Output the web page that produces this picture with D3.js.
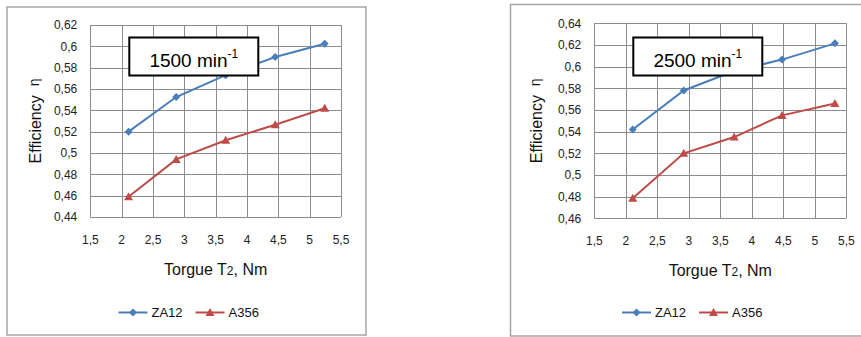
<!DOCTYPE html>
<html>
<head>
<meta charset="utf-8">
<script src="https://cdn.jsdelivr.net/npm/d3@7"></script>
<style>
  body { margin: 0; background: #fff; }
  svg { display: block; font-family: "Liberation Sans", Arial, sans-serif; }
</style>
</head>
<body>
<svg id="chart" width="861" height="337"></svg>
<script>
/************************************ Data *******************************/
var seriesNames = ["ZA12", "A356"];
var seriesColors = ["#4a7ebb", "#be4b48"];
var speeds = ["1500", "2500"];

var xTicks = [1.5, 2, 2.5, 3, 3.5, 4, 4.5, 5, 5.5];
var yTicks1500 = [0.44, 0.46, 0.48, 0.5, 0.52, 0.54, 0.56, 0.58, 0.6, 0.62];
var yTicks2500 = [0.46, 0.48, 0.5, 0.52, 0.54, 0.56, 0.58, 0.6, 0.62, 0.64];

var torque1500 = [2.11, 2.87, 3.66, 4.45, 5.24];
var za12_1500  = [0.52, 0.5525, 0.573, 0.590, 0.6025];
var a356_1500  = [0.459, 0.494, 0.512, 0.5265, 0.542];

var torque2500 = [2.11, 2.92, 3.72, 4.48, 5.32];
var za12_2500  = [0.542, 0.578, 0.596, 0.6065, 0.6215];
var a356_2500  = [0.4785, 0.52, 0.535, 0.555, 0.566];

/************************************ Helpers *******************************/
var locale = d3.formatLocale({decimal: ",", thousands: " ", grouping: [3], currency: ["", ""]});
var fmt = locale.format("~g");

var markers = [
	"M0,-4L4,0L0,4L-4,0Z",          // diamond
	"M0,-4.5L4.5,3.5L-4.5,3.5Z"     // triangle
];

var svg = d3.select("#chart");

function drawChart(cfg) {
	var g = svg.append("g");

	// outer frame
	g.append("rect")
		.attr("x", cfg.box[0]).attr("y", cfg.box[1])
		.attr("width", cfg.box[2] - cfg.box[0]).attr("height", cfg.box[3] - cfg.box[1])
		.attr("fill", "#fff").attr("stroke", "#a6a6a6").attr("stroke-width", 1.5);

	var x = d3.scaleLinear().domain([1.5, 5.5]).range([cfg.plot[0], cfg.plot[2]]);
	var y = d3.scaleLinear().domain([cfg.yTicks[0], cfg.yTicks[cfg.yTicks.length - 1]])
		.range([cfg.plot[3], cfg.plot[1]]);

	// grid
	g.append("g").selectAll("line").data(xTicks).enter().append("line")
		.attr("x1", function(d) { return Math.round(x(d)) + 0.5; })
		.attr("x2", function(d) { return Math.round(x(d)) + 0.5; })
		.attr("y1", y.range()[1]).attr("y2", y.range()[0])
		.attr("stroke", "#8c8c8c").attr("stroke-width", 1);
	g.append("g").selectAll("line").data(cfg.yTicks).enter().append("line")
		.attr("y1", function(d) { return Math.round(y(d)) + 0.5; })
		.attr("y2", function(d) { return Math.round(y(d)) + 0.5; })
		.attr("x1", x.range()[0]).attr("x2", x.range()[1])
		.attr("stroke", "#8c8c8c").attr("stroke-width", 1);

	// tick labels
	g.append("g").selectAll("text").data(cfg.yTicks).enter().append("text")
		.attr("x", x.range()[0] - 13)
		.attr("y", function(d) { return y(d) + 4.3; })
		.attr("text-anchor", "end").attr("font-size", 12).attr("fill", "#222")
		.text(fmt);
	g.append("g").selectAll("text").data(xTicks).enter().append("text")
		.attr("x", function(d) { return x(d); })
		.attr("y", y.range()[0] + 27)
		.attr("text-anchor", "middle").attr("font-size", 12).attr("fill", "#222")
		.text(fmt);

	// axis titles
	var xt = g.append("text")
		.attr("x", (x.range()[0] + x.range()[1]) / 2)
		.attr("y", y.range()[0] + 58)
		.attr("text-anchor", "middle").attr("font-size", 16).attr("fill", "#111");
	xt.append("tspan").text("Torgue T");
	xt.append("tspan").attr("font-size", 12).text("2");
	xt.append("tspan").text(", Nm");

	var yt = g.append("text")
		.attr("transform", "translate(" + (x.range()[0] - cfg.yTitleOff) + "," + ((y.range()[0] + y.range()[1]) / 2) + ") rotate(-90)")
		.attr("text-anchor", "middle").attr("font-size", 16).attr("fill", "#111");
	yt.append("tspan").text("Efficiency\u00a0\u00a0");
	yt.append("tspan").attr("font-size", 14).attr("dy", -2).text("\u03b7");

	// series
	var line = d3.line()
		.x(function(d) { return x(d[0]); })
		.y(function(d) { return y(d[1]); });

	cfg.series.forEach(function(vals, i) {
		var pts = cfg.torque.map(function(t, k) { return [t, vals[k]]; });
		g.append("path").attr("d", line(pts))
			.attr("fill", "none").attr("stroke", seriesColors[i]).attr("stroke-width", 2);
		g.append("g").selectAll("path").data(pts).enter().append("path")
			.attr("d", markers[i])
			.attr("transform", function(d) { return "translate(" + x(d[0]) + "," + y(d[1]) + ")"; })
			.attr("fill", seriesColors[i]);
	});

	// speed label box
	var bx = x.range()[0] + 39, by = 37.5, bw = 129, bh = 38;
	g.append("rect").attr("x", bx).attr("y", by).attr("width", bw).attr("height", bh)
		.attr("fill", "#fff").attr("stroke", "#000").attr("stroke-width", 2);
	var lt = g.append("text").attr("x", bx + bw / 2).attr("y", 66.5)
		.attr("text-anchor", "middle").attr("font-size", 19).attr("fill", "#000");
	lt.append("tspan").text(cfg.speed + " min");
	lt.append("tspan").attr("font-size", 12).attr("dy", -9).text("-1");

	// legend
	var lx = cfg.box[0] + 111.5, ly = 312.5;
	var offs = [0, 77];
	seriesNames.forEach(function(name, i) {
		var ox = lx + offs[i];
		g.append("line").attr("x1", ox).attr("x2", ox + 29).attr("y1", ly).attr("y2", ly)
			.attr("stroke", seriesColors[i]).attr("stroke-width", 2);
		g.append("path").attr("d", markers[i])
			.attr("transform", "translate(" + (ox + 14.5) + "," + ly + ")")
			.attr("fill", seriesColors[i]);
		g.append("text").attr("x", ox + 33).attr("y", ly + 4.7)
			.attr("font-size", 13).attr("fill", "#111").text(name);
	});
}

drawChart({
	box: [7, 7, 366, 335],
	plot: [90.3, 25, 341, 217],
	yTicks: yTicks1500,
	yTitleOff: 49,
	torque: torque1500,
	series: [za12_1500, a356_1500],
	speed: speeds[0]
});

drawChart({
	box: [510.5, 4.5, 862, 336],
	plot: [594.3, 23.3, 846.3, 218.3],
	yTicks: yTicks2500,
	yTitleOff: 52.5,
	torque: torque2500,
	series: [za12_2500, a356_2500],
	speed: speeds[1]
});
</script>
</body>
</html>
